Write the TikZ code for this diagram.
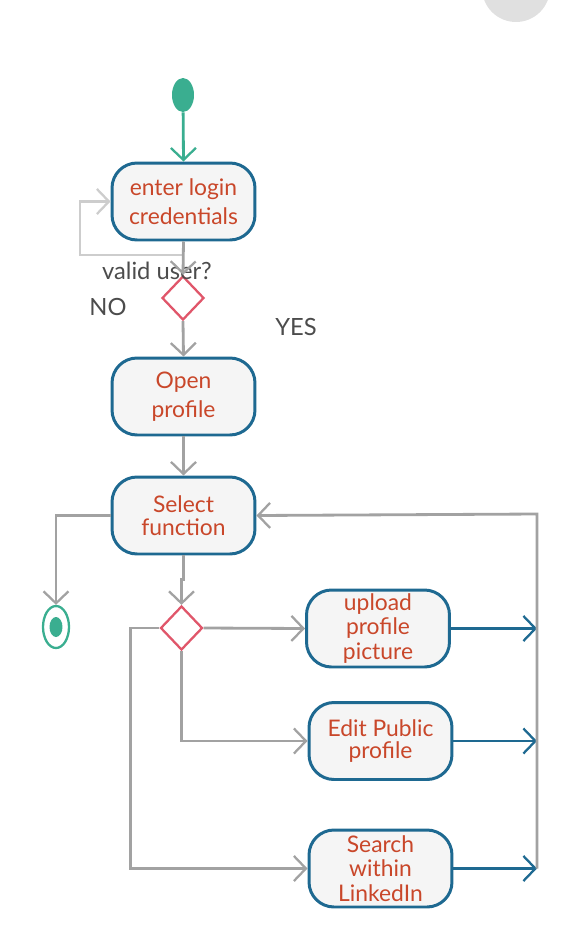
\documentclass[tikz,border=0pt]{standalone}
\usepackage{fontspec}
\setmainfont{Lato}
\usetikzlibrary{shapes.geometric,arrows.meta}
\definecolor{teal1}{HTML}{3AAE90}
\definecolor{boxblue}{HTML}{1E6991}
\definecolor{txtred}{HTML}{C9472A}
\definecolor{dmdred}{HTML}{E0566A}
\definecolor{flowgrey}{HTML}{A2A2A2}
\definecolor{loopgrey}{HTML}{CDCDCD}
\begin{document}
\begin{tikzpicture}[x=0.02cm, y=-0.02cm,
		act/.style = {draw = boxblue, line width = 1.7pt, fill = black!4, rounded corners = 0.5cm,
			minimum width = 2.86cm, minimum height = 1.54cm, inner sep = 0pt, align = center,
			text = txtred, font = \fontsize{13}{14}\selectfont},
		choice/.style = {diamond, draw = dmdred, line width = 1.3pt, fill = white,
			minimum width = 0.84cm, minimum height = 0.88cm, inner sep = 0pt},
		lbl/.style = {text = black!70, font = \fontsize{13.5}{14}\selectfont},
		head/.style = {-{Straight Barb[length = 2.4mm, width = 5mm, line width = 1.3pt]}},
		flow/.style = {head, draw = flowgrey, line width = 1.6pt},
		blueflow/.style = {head, draw = boxblue, line width = 1.6pt}]
		\useasboundingbox (0, 0) rectangle (576, 948);
		\fill[black!12] (516, -12) circle (0.68cm);
		% nodes
		\node[ellipse, fill = teal1, minimum width = 0.44cm, minimum height = 0.68cm, inner sep = 0pt] (start) at (183, 95) {};
		\node[act, font = \fontsize{13}{16.5}\selectfont] (login) at (183.5, 201.5) {enter login\\credentials};
		\node[choice] (valid) at (183, 298) {};
		\node[act, font = \fontsize{13}{16.5}\selectfont] (open) at (183.5, 396.5) {Open\\profile};
		\node[act, font = \fontsize{13}{13}\selectfont] (select) at (183.5, 515.5) {Select\\function};
		\node[ellipse, draw = teal1, line width = 1.3pt, fill = white, minimum width = 0.52cm, minimum height = 0.84cm, inner sep = 0pt] (finish) at (56, 627) {};
		\node[ellipse, fill = teal1, minimum width = 0.26cm, minimum height = 0.4cm, inner sep = 0pt] (finishdot) at (56, 627) {};
		\node[choice] (choose) at (181.5, 628) {};
		\node[act] (upload) at (378, 628.5) {upload\\profile\\picture};
		\node[act, font = \fontsize{13}{13}\selectfont] (edit) at (380.5, 741) {Edit Public\\profile};
		\node[act] (search) at (380.5, 868.5) {Search\\within\\LinkedIn};
		\node[lbl] (question) at (157, 271) {valid user?};
		\node[lbl] (no) at (108, 307) {NO};
		\node[lbl] (yes) at (296, 327) {YES};
		\coordinate (loopstart) at (183, 255);
		\coordinate (rail) at (537, 514);
		% connectors
		\draw[head, draw = teal1, line width = 1.6pt] (start) -- (login.north);
		\draw[head, draw = loopgrey, line width = 1.3pt] (loopstart) -- ++(-103, 0) |- (login.west);
		\draw[flow] (login.south) -- (valid.north);
		\draw[flow] (valid.south) -- (open.north);
		\draw[flow] (open.south) -- (select.north);
		\draw[flow] (select.west) -| (finish.north);
		\draw[flow] (select.south) -- ++(0, 24) -| (choose.north);
		\draw[flow] (choose.east) -- (upload.west);
		\draw[flow] (choose.south) |- (edit.west);
		\draw[flow] (choose.west) -- ++(-29, 0) |- (search.west);
		\draw[blueflow] (upload.east) -- (upload.east -| rail);
		\draw[blueflow] (edit.east) -- (edit.east -| rail);
		\draw[blueflow] (search.east) -- (search.east -| rail);
		\draw[flow] (search.east -| rail) -- (rail) -- (select.east);
	\end{tikzpicture}
\end{document}
